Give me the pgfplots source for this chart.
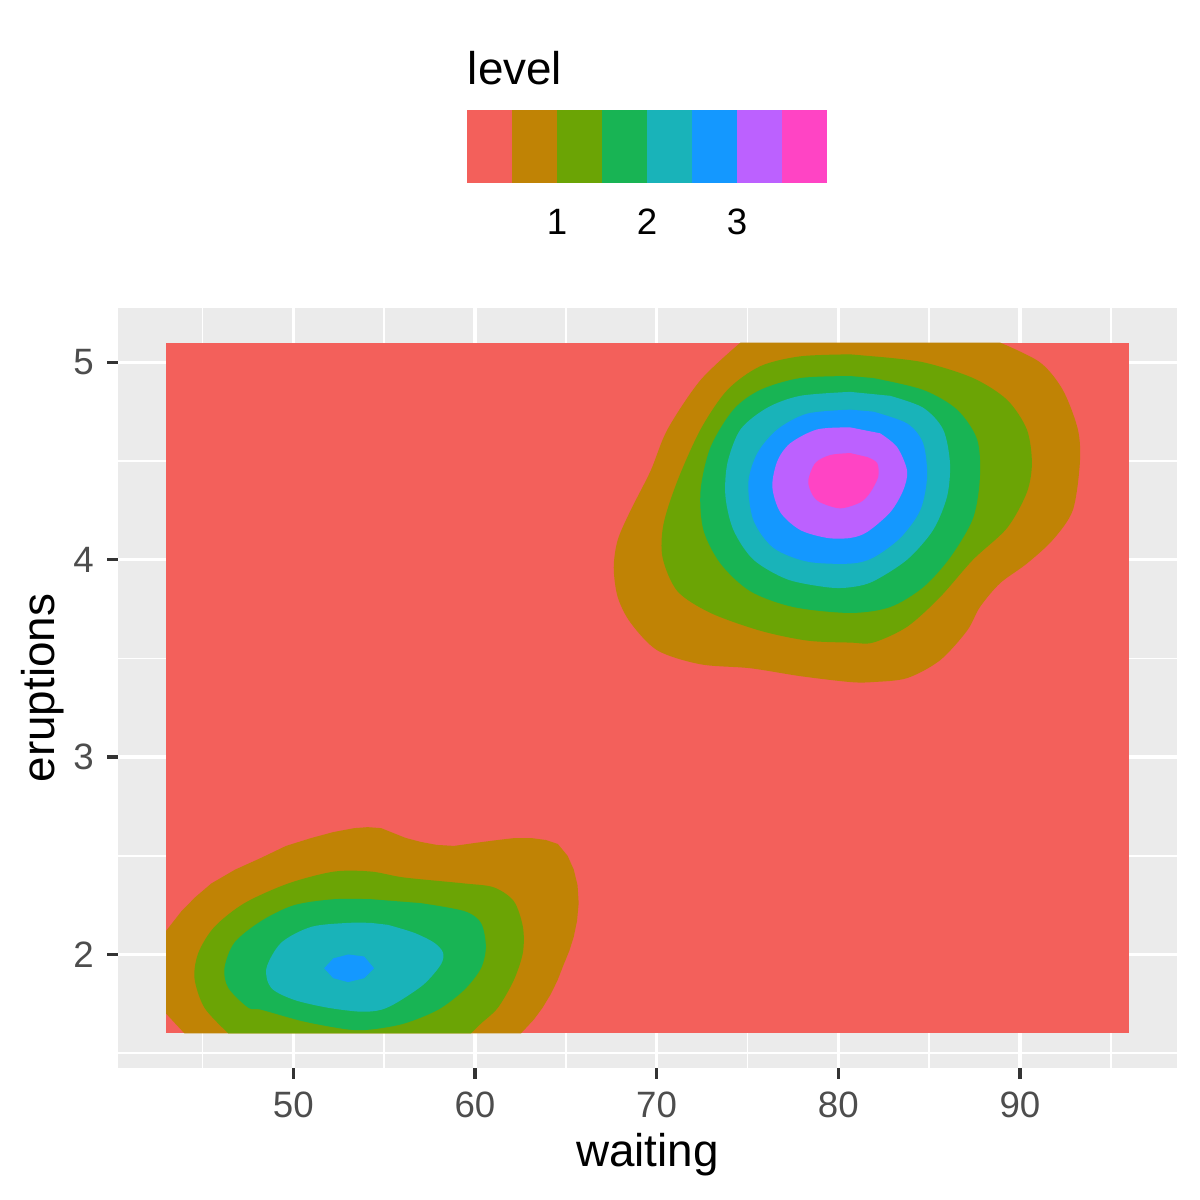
\documentclass[border=0pt]{standalone}
\usepackage{fontspec}
\setmainfont{Liberation Sans}
\usepackage{pgfplots}
\pgfplotsset{compat=1.18}
\definecolor{c1}{HTML}{F3605B}
\definecolor{c2}{HTML}{C08305}
\definecolor{c3}{HTML}{6BA405}
\definecolor{c4}{HTML}{18B454}
\definecolor{c5}{HTML}{19B3B9}
\definecolor{c6}{HTML}{1498FF}
\definecolor{c7}{HTML}{BC61FF}
\definecolor{c8}{HTML}{FF44C4}
\definecolor{panelbg}{HTML}{EBEBEB}
\definecolor{tickcol}{HTML}{333333}
\definecolor{labcol}{HTML}{4D4D4D}
\begin{document}
\begin{tikzpicture}
\useasboundingbox (-28.32pt,-31.68pt) rectangle (259.68pt,256.32pt);
\begin{axis}[
  at={(0pt,0pt)}, anchor=south west,
  scale only axis, width=254.16pt, height=182.4pt,
  xmin=40.35, xmax=98.65, ymin=1.425, ymax=5.275,
  axis background/.style={fill=panelbg},
  axis line style={draw=none},
  xtick={50,60,70,80,90}, ytick={2,3,4,5},
  minor xtick={45,55,65,75,85,95}, minor ytick={1.5,2.5,3.5,4.5},
  grid=both,
  major grid style={white, line width=0.8pt},
  minor grid style={white, line width=0.4pt},
  tick align=outside, tick pos=left,
  major tick length=2.64pt, minor tick length=0pt,
  tick style={tickcol, line width=0.8pt},
  ticklabel style={font=\fontsize{8.8}{10}\selectfont, text=labcol},
  xticklabel style={inner sep=0pt, anchor=north, yshift=-3pt},
  yticklabel style={inner sep=0pt, anchor=east, xshift=-3pt},
  /pgf/number format/assume math mode=true,
  xlabel={waiting}, ylabel={eruptions},
  every axis x label/.style={at={(axis description cs:0.5,0)}, anchor=center, yshift=-20.9pt, font=\fontsize{11}{13}\selectfont},
  every axis y label/.style={at={(axis description cs:0,0.5)}, rotate=90, anchor=center, yshift=18pt, font=\fontsize{11}{13}\selectfont},
]
% background level
\addplot[fill=c1, draw=none] coordinates {(43,1.6)(96,1.6)(96,5.1)(43,5.1)} -- cycle;
% upper-right cluster
\addplot[fill=c2, draw=none, smooth, tension=0.5] coordinates {
(74.62,5.10)(72.42,4.91)(70.60,4.66)(69.67,4.45)(68.57,4.25)(67.86,4.10)(67.64,3.96)(67.86,3.81)(68.57,3.68)(70.05,3.54)(72.42,3.47)(75.16,3.45)(77.91,3.41)(80.66,3.38)(81.92,3.38)(83.79,3.40)(85.60,3.49)(87.09,3.64)(87.80,3.76)(88.90,3.88)(90.38,3.98)(91.81,4.10)(92.91,4.25)(93.30,4.49)(93.19,4.66)(92.36,4.86)(91.10,5.00)(88.90,5.10)} -- cycle;
\addplot[fill=c3, draw=none, smooth, tension=0.5] coordinates {
(80.66,5.04)(77.91,5.03)(75.71,4.98)(73.90,4.86)(72.42,4.66)(71.15,4.40)(70.38,4.18)(70.33,4.01)(71.15,3.84)(72.97,3.73)(75.71,3.64)(78.30,3.59)(80.66,3.58)(81.92,3.58)(83.79,3.66)(85.60,3.81)(87.42,4.00)(89.29,4.16)(90.38,4.34)(90.66,4.49)(90.38,4.66)(89.29,4.81)(87.42,4.92)(84.67,5.00)(81.92,5.03)} -- cycle;
\addplot[fill=c4, draw=none, smooth, tension=0.5] coordinates {
(80.66,4.93)(77.91,4.92)(75.71,4.86)(74.23,4.76)(72.97,4.57)(72.42,4.35)(72.58,4.15)(73.52,3.98)(75.16,3.84)(77.53,3.76)(80.66,3.73)(82.86,3.76)(84.67,3.86)(86.15,4.01)(87.42,4.21)(87.80,4.42)(87.64,4.61)(86.54,4.76)(84.67,4.86)(81.92,4.92)} -- cycle;
\addplot[fill=c5, draw=none, smooth, tension=0.5] coordinates {
(80.66,4.85)(77.91,4.83)(76.10,4.77)(74.62,4.66)(73.90,4.49)(73.79,4.32)(74.23,4.15)(75.33,4.00)(77.20,3.90)(79.40,3.86)(80.66,3.86)(81.92,3.89)(83.79,4.00)(85.22,4.15)(85.99,4.32)(86.15,4.49)(85.77,4.66)(84.67,4.77)(82.86,4.83)} -- cycle;
\addplot[fill=c6, draw=none, smooth, tension=0.5] coordinates {
(80.66,4.76)(78.30,4.74)(76.65,4.66)(75.55,4.54)(75.05,4.39)(75.33,4.20)(76.43,4.06)(78.30,3.99)(80.66,3.98)(81.92,4.01)(83.41,4.11)(84.51,4.25)(84.89,4.42)(84.67,4.59)(83.79,4.69)(81.92,4.75)} -- cycle;
\addplot[fill=c7, draw=none, smooth, tension=0.5] coordinates {
(80.66,4.67)(78.85,4.66)(77.36,4.59)(76.65,4.50)(76.37,4.37)(76.81,4.24)(77.91,4.15)(79.40,4.11)(80.66,4.11)(81.59,4.14)(82.86,4.24)(83.57,4.35)(83.79,4.45)(83.24,4.57)(82.31,4.64)} -- cycle;
\addplot[fill=c8, draw=none, smooth, tension=0.5] coordinates {
(80.66,4.54)(79.56,4.53)(78.74,4.49)(78.35,4.40)(78.57,4.33)(79.01,4.29)(80.11,4.26)(81.21,4.29)(81.76,4.34)(82.20,4.42)(82.14,4.49)(81.59,4.52)} -- cycle;
% lower-left cluster
\addplot[fill=c2, draw=none] coordinates {
(43.00,1.70)(43.00,2.12)(43.85,2.22)(44.60,2.29)(45.49,2.36)(46.80,2.43)(48.24,2.49)(49.60,2.55)(50.99,2.59)(52.20,2.62)(53.35,2.64)(54.10,2.645)(54.84,2.64)(55.38,2.62)(56.20,2.59)(57.03,2.57)(57.90,2.555)(58.85,2.55)(60.00,2.565)(61.26,2.58)(62.20,2.59)(63.08,2.59)(63.90,2.58)(64.56,2.56)(65.10,2.50)(65.44,2.43)(65.65,2.35)(65.71,2.26)(65.62,2.17)(65.44,2.09)(65.20,2.02)(64.89,1.95)(64.55,1.87)(64.18,1.80)(63.72,1.73)(63.24,1.67)(62.53,1.60)(44.01,1.60)} -- cycle;
\addplot[fill=c3, draw=none, smooth, tension=0.5] coordinates {
(46.43,1.60)(45.11,1.73)(44.56,1.88)(44.78,2.01)(45.66,2.14)(47.31,2.26)(49.73,2.36)(52.25,2.42)(54.29,2.42)(56.10,2.39)(59.40,2.36)(61.04,2.34)(62.14,2.27)(62.64,2.14)(62.64,2.01)(62.14,1.87)(61.26,1.73)(60.33,1.65)(59.78,1.60)} -- cycle;
\addplot[fill=c4, draw=none, smooth, tension=0.5] coordinates {
(54.29,2.28)(52.25,2.28)(50.05,2.25)(48.24,2.17)(46.76,2.06)(46.21,1.93)(46.43,1.83)(47.53,1.73)(48.24,1.72)(50.60,1.66)(53.02,1.62)(54.29,1.62)(56.10,1.65)(57.97,1.72)(59.40,1.82)(60.33,1.93)(60.60,2.04)(60.33,2.16)(59.40,2.22)(57.03,2.26)} -- cycle;
\addplot[fill=c5, draw=none, smooth, tension=0.5] coordinates {
(54.29,2.16)(53.02,2.16)(50.99,2.14)(49.34,2.06)(48.52,1.93)(48.79,1.83)(50.05,1.77)(51.92,1.73)(53.74,1.71)(54.84,1.72)(55.77,1.76)(57.20,1.85)(58.13,1.95)(58.24,2.01)(57.75,2.06)(56.65,2.11)(55.22,2.15)} -- cycle;
\addplot[fill=c6, draw=none] coordinates {
(51.70,1.93)(52.20,1.98)(53.02,2.00)(53.90,1.99)(54.45,1.93)(53.90,1.88)(53.02,1.86)(52.20,1.88)} -- cycle;
\end{axis}
\begin{axis}[
  at={(83.76pt,212.4pt)}, anchor=south west,
  scale only axis, width=86.4pt, height=17.52pt,
  xmin=0, xmax=8, ymin=0, ymax=1,
  axis line style={draw=none}, ytick=\empty,
  xtick={2,4,6}, xticklabels={1,2,3},
  major tick length=0pt,
  xticklabel style={font=\fontsize{8.8}{10}\selectfont, text=black, inner sep=0pt, anchor=north, yshift=-6pt},
  clip=false,
]
\addplot[fill=c1, draw=none] coordinates {(0,0)(1,0)(1,1)(0,1)} -- cycle;
\addplot[fill=c2, draw=none] coordinates {(1,0)(2,0)(2,1)(1,1)} -- cycle;
\addplot[fill=c3, draw=none] coordinates {(2,0)(3,0)(3,1)(2,1)} -- cycle;
\addplot[fill=c4, draw=none] coordinates {(3,0)(4,0)(4,1)(3,1)} -- cycle;
\addplot[fill=c5, draw=none] coordinates {(4,0)(5,0)(5,1)(4,1)} -- cycle;
\addplot[fill=c6, draw=none] coordinates {(5,0)(6,0)(6,1)(5,1)} -- cycle;
\addplot[fill=c7, draw=none] coordinates {(6,0)(7,0)(7,1)(6,1)} -- cycle;
\addplot[fill=c8, draw=none] coordinates {(7,0)(8,0)(8,1)(7,1)} -- cycle;
\node[anchor=base west, inner sep=0pt, yshift=6pt, font=\fontsize{11}{13}\selectfont] at (rel axis cs:0,1) {level};
\end{axis}
\end{tikzpicture}
\end{document}
